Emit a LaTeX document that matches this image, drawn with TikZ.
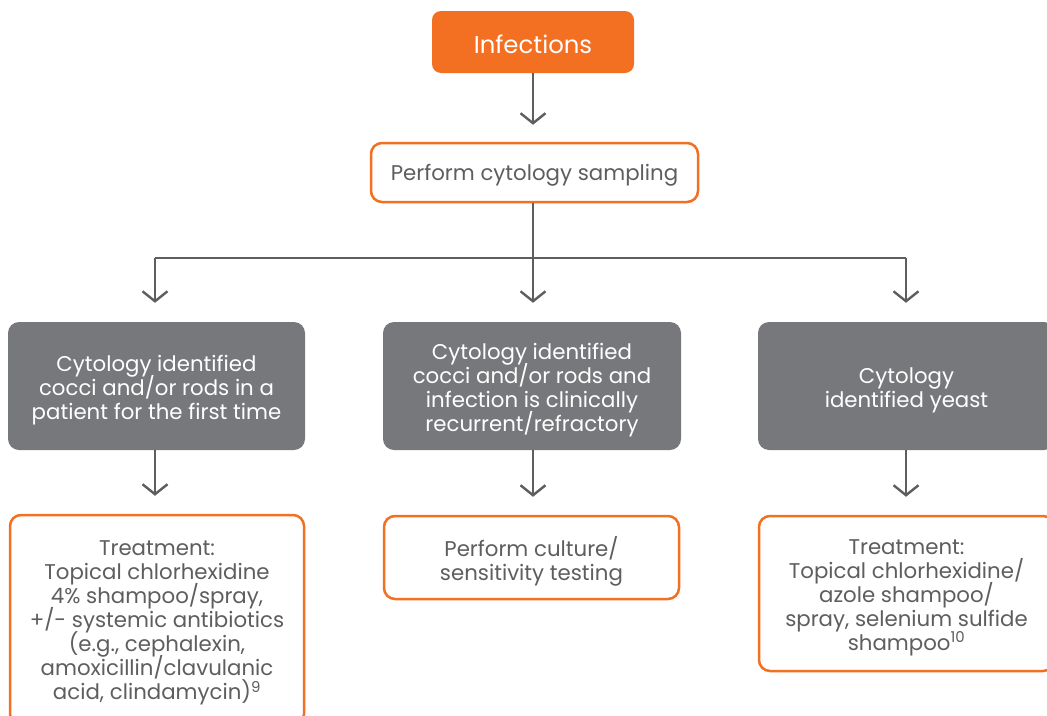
\documentclass[tikz,border=0pt]{standalone}
\usepackage{fontspec}
\setmainfont{Poppins}
\usetikzlibrary{arrows.meta}
\definecolor{orng}{HTML}{F36F21}
\definecolor{gbox}{HTML}{77787B}
\definecolor{txt}{HTML}{5D5E60}
\newcommand{\TT}[2][-3pt]{\raisebox{#1}[\height][\depth]{\vbox{\baselineskip=24pt\lineskiplimit=-100pt\lineskip=0pt\let\\\cr\halign{\hfil\strut##\hfil\cr#2\crcr}}}}
\tikzset{
  every node/.style={font=\fontsize{21.3}{24}\selectfont, inner sep=0pt},
  topbox/.style={fill=orng, draw=none, rounded corners=9pt, text=white, font=\fontsize{24.4}{28}\selectfont},
  obox/.style={fill=white, draw=orng, line width=2.5pt, rounded corners=11pt, text=txt},
  gbx/.style={fill=gbox, draw=none, rounded corners=11pt, text=white},
  conn/.style={draw=txt, line width=2.4pt, -{Straight Barb[length=10pt,width=25pt,line width=2.4pt]}},
  plain/.style={draw=txt, line width=2.4pt}
}
\begin{document}
\begin{tikzpicture}[x=1pt,y=-1pt]
\useasboundingbox (0,0) rectangle (1047,715);
\clip (0,0) rectangle (1047,715);
% top
\node[topbox, minimum width=202pt, minimum height=62pt] (inf) at (533,42) {\TT[-5.5pt]{Infections}};
\node[obox, minimum width=327pt, minimum height=59pt] (perf) at (534.5,172.5) {\TT[-3pt]{Perform cytology sampling}};
% gray row
\node[gbx, minimum width=297pt, minimum height=128pt] (gl) at (156.5,386) {\TT[-5pt]{Cytology identified\\cocci and/or rods in a\\patient for the first time}};
\node[gbx, minimum width=298pt, minimum height=128pt] (gm) at (532,386) {\TT[-5pt]{Cytology identified\\cocci and/or rods and\\infection is clinically\\recurrent/refractory}};
\node[gbx, minimum width=297pt, minimum height=128pt] (gr) at (906.5,386) {\TT[-5pt]{Cytology\\identified yeast}};
% bottom row
\node[obox, minimum width=294pt, minimum height=210pt] (bl) at (157,620) {\TT[-3pt]{Treatment:\\Topical chlorhexidine\\4\% shampoo/spray,\\+/- systemic antibiotics\\(e.g., cephalexin,\\amoxicillin/clavulanic\\acid, clindamycin)\textsuperscript{9}}};
\node[obox, minimum width=295pt, minimum height=83pt] (bm) at (531.5,557.5) {\TT[-4.5pt]{Perform culture/\\sensitivity testing}};
\node[obox, minimum width=295pt, minimum height=155pt] (br) at (906.5,593.5) {\TT[-4pt]{Treatment:\\Topical chlorhexidine/\\azole shampoo/\\spray, selenium sulfide\\shampoo\textsuperscript{10}}};
% connectors
\coordinate (j) at (533,258);
\coordinate (jl) at (155,258);
\coordinate (jr) at (906,258);
\draw[conn, shorten >=17pt] (inf.south) -- (inf.south |- perf.north);
\draw[conn, shorten >=19pt] (perf.south -| j) -- (j |- gm.north);
\draw[plain] (jl) -- (jr);
\draw[conn, shorten >=19pt] (jl) -- (jl |- gl.north);
\draw[conn, shorten >=19pt] (jr) -- (jr |- gr.north);
\draw[conn, shorten >=18pt] (gl.south -| jl) -- (jl |- bl.north);
\draw[conn, shorten >=18pt] (gm.south -| j) -- (j |- bm.north);
\draw[conn, shorten >=18pt] (gr.south -| jr) -- (jr |- br.north);
\end{tikzpicture}
\end{document}
